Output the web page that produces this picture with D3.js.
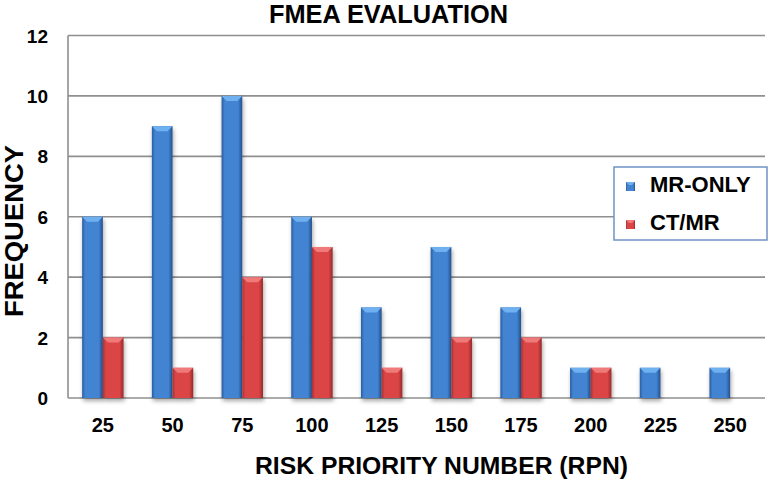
<!DOCTYPE html>
<html><head><meta charset="utf-8">
<script src="https://cdn.jsdelivr.net/npm/d3@7"></script>
<style>
html,body{margin:0;padding:0;background:#fff;}
svg text{font-family:"Liberation Sans",Arial,sans-serif;font-weight:bold;fill:#000;}
</style></head>
<body>
<svg id="chart" width="771" height="485"></svg>
<script>
const categories = ["25","50","75","100","125","150","175","200","225","250"];
const seriesNames = ["MR-ONLY","CT/MR"];
const mrOnly = [6,9,10,6,3,5,3,1,1,1];
const ctMr   = [2,1,4,5,1,2,2,1,0,0];
const yTicks = [0,2,4,6,8,10,12];

const svg = d3.select("#chart");
const M = {left:68, right:765, top:35.5, bottom:398};

const x = d3.scaleBand().domain(categories).range([M.left, M.right]).paddingInner(0.406).paddingOuter(0.203);
const xs = d3.scaleBand().domain(seriesNames).range([0, x.bandwidth()]);
const y = d3.scaleLinear().domain([0,12]).range([M.bottom, M.top]);

const defs = svg.append("defs");
const pal = {
  "MR-ONLY": {edgeL:"#2a5c9e", mid:"#4284d2", edgeR:"#24508c", top:"#6fb0f0"},
  "CT/MR":   {edgeL:"#a83232", mid:"#dc4545", edgeR:"#962a2a", top:"#f07a7a"}
};
seriesNames.forEach((s,i)=>{
  const g = defs.append("linearGradient").attr("id","g"+i).attr("x1","0").attr("x2","1").attr("y1","0").attr("y2","0");
  g.append("stop").attr("offset","0").attr("stop-color",pal[s].edgeL);
  g.append("stop").attr("offset","0.15").attr("stop-color",pal[s].mid);
  g.append("stop").attr("offset","0.8").attr("stop-color",pal[s].mid);
  g.append("stop").attr("offset","1").attr("stop-color",pal[s].edgeR);
});
const f = defs.append("filter").attr("id","sh").attr("x","-30%").attr("y","-10%").attr("width","160%").attr("height","130%");
f.append("feDropShadow").attr("dx",1).attr("dy",3).attr("stdDeviation",2).attr("flood-color","#000").attr("flood-opacity",0.35);

// gridlines
svg.append("g").selectAll("line").data(yTicks).join("line")
  .attr("x1",M.left).attr("x2",M.right)
  .attr("y1",d=>y(d)).attr("y2",d=>y(d))
  .attr("stroke","#8f8f8f").attr("stroke-width",1.6);
svg.append("line").attr("x1",M.left).attr("x2",M.left).attr("y1",M.top).attr("y2",M.bottom)
  .attr("stroke","#8f8f8f").attr("stroke-width",1.6);

// bars
const data = [];
categories.forEach((c,ci)=>{
  data.push({c, s:"MR-ONLY", si:0, v:mrOnly[ci]});
  data.push({c, s:"CT/MR", si:1, v:ctMr[ci]});
});
const bars = svg.append("g").selectAll("g").data(data.filter(d=>d.v>0)).join("g");
bars.append("rect")
  .attr("x",d=>x(d.c)+xs(d.s)).attr("width",xs.bandwidth())
  .attr("y",d=>y(d.v)).attr("height",d=>y(0)-y(d.v))
  .attr("fill",d=>`url(#g${d.si})`).attr("filter","url(#sh)");
bars.append("path")
  .attr("d",d=>{
    const x0=x(d.c)+xs(d.s), x1=x0+xs.bandwidth(), y0=y(d.v), b=5;
    return `M${x0},${y0}L${x1},${y0}L${x1-b},${y0+b}L${x0+b},${y0+b}Z`;
  })
  .attr("fill",d=>pal[d.s].top);

// y tick labels
svg.append("g").selectAll("text").data(yTicks).join("text")
  .attr("x",48).attr("y",d=>y(d)+7).attr("text-anchor","end")
  .attr("font-size",19).text(d=>d);
// x tick labels
svg.append("g").selectAll("text").data(categories).join("text")
  .attr("x",d=>x(d)+x.bandwidth()/2).attr("y",432).attr("text-anchor","middle")
  .attr("font-size",20).text(d=>d);

// titles
svg.append("text").attr("x",388.5).attr("y",23).attr("text-anchor","middle")
  .attr("font-size",25).attr("textLength",239).attr("lengthAdjust","spacingAndGlyphs").text("FMEA EVALUATION");
svg.append("text").attr("transform","translate(23,231) rotate(-90)").attr("text-anchor","middle")
  .attr("font-size",26).attr("textLength",172).attr("lengthAdjust","spacingAndGlyphs").text("FREQUENCY");
svg.append("text").attr("x",441.5).attr("y",474).attr("text-anchor","middle")
  .attr("font-size",24).attr("textLength",373).attr("lengthAdjust","spacingAndGlyphs").text("RISK PRIORITY NUMBER (RPN)");

// legend
const lg = svg.append("g");
lg.append("rect").attr("x",614).attr("y",167).attr("width",153).attr("height",73)
  .attr("fill","#fff").attr("stroke","#6f93c6").attr("stroke-width",1.5);
const li = lg.selectAll("g").data(seriesNames).join("g")
  .attr("transform",(d,i)=>`translate(0,${i*38})`);
li.append("rect").attr("x",626).attr("y",182).attr("width",9).attr("height",9)
  .attr("fill",(d,i)=>`url(#g${i})`);
li.append("path").attr("d","M626,182L635,182L632,185L629,185Z").attr("fill",d=>pal[d].top);
li.append("text").attr("x",650).attr("y",192).attr("font-size",22).text(d=>d);
</script>
</body></html>
